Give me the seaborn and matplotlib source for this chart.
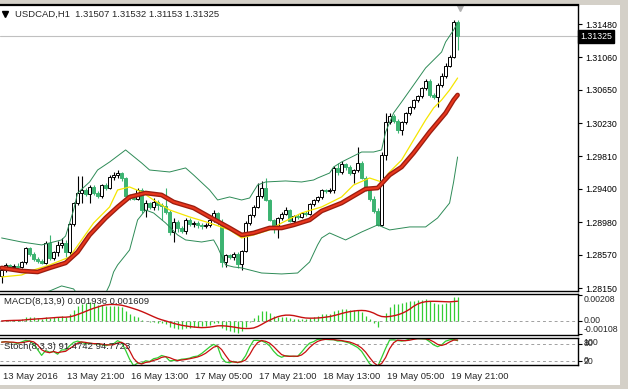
import numpy as np
import pandas as pd
import matplotlib
matplotlib.use("Agg")
import matplotlib.pyplot as plt
import matplotlib.transforms as mtransforms
from matplotlib.patches import Rectangle
import seaborn as sns

# USDCAD H1, 13 May 2016 05:00 .. 19 May 2016 23:00 (one bar per hour, weekend skipped)
opens = [1.28303, 1.28378, 1.28441, 1.28416, 1.28429, 1.28416, 1.28479, 1.28656, 1.28580, 1.28517,
         1.28492, 1.28467, 1.28719, 1.28530, 1.28605, 1.28694, 1.28719, 1.28605, 1.28958, 1.29223,
         1.29349, 1.29387, 1.29337, 1.29425, 1.29349, 1.29311, 1.29450, 1.29412, 1.29551, 1.29576,
         1.29601, 1.29538, 1.29311, 1.29286, 1.29274, 1.29387, 1.29135, 1.29223, 1.29173, 1.29236,
         1.29198, 1.29185, 1.29110, 1.28857, 1.28984, 1.28908, 1.28870, 1.29009, 1.28958, 1.28971,
         1.28946, 1.28933, 1.28946, 1.29009, 1.29097, 1.28984, 1.28479, 1.28567, 1.28542, 1.28580,
         1.28454, 1.28618, 1.28971, 1.29072, 1.29173, 1.29311, 1.29412, 1.29261, 1.29009, 1.28895,
         1.29034, 1.29084, 1.29135, 1.28996, 1.29059, 1.29047, 1.29097, 1.29084, 1.29211, 1.29261,
         1.29299, 1.29387, 1.29375, 1.29387, 1.29665, 1.29614, 1.29715, 1.29677, 1.29601, 1.29639,
         1.29728, 1.29538, 1.29387, 1.29274, 1.29122, 1.28946, 1.29828, 1.30245, 1.30320, 1.30257,
         1.30144, 1.30245, 1.30358, 1.30434, 1.30522, 1.30572, 1.30673, 1.30762, 1.30585, 1.30560,
         1.30711, 1.30825, 1.30951, 1.31064, 1.31507]
highs = [1.28404, 1.28467, 1.28454, 1.28454, 1.28467, 1.28492, 1.28668, 1.28668, 1.28605, 1.28542,
         1.28517, 1.28744, 1.28820, 1.28618, 1.28744, 1.28782, 1.28757, 1.28971, 1.29236, 1.29564,
         1.29564, 1.29412, 1.29450, 1.29450, 1.29375, 1.29463, 1.29475, 1.29576, 1.29614, 1.29639,
         1.29614, 1.29551, 1.29337, 1.29324, 1.29412, 1.29412, 1.29261, 1.29236, 1.29286, 1.29261,
         1.29223, 1.29412, 1.29135, 1.29034, 1.29009, 1.28933, 1.29034, 1.29034, 1.28996, 1.28996,
         1.28971, 1.28971, 1.29021, 1.29135, 1.29110, 1.29021, 1.28580, 1.28580, 1.28605, 1.28605,
         1.28631, 1.28996, 1.29084, 1.29198, 1.29475, 1.29501, 1.29538, 1.29274, 1.29021, 1.29047,
         1.29110, 1.29173, 1.29147, 1.29072, 1.29084, 1.29110, 1.29122, 1.29223, 1.29274, 1.29311,
         1.29400, 1.29400, 1.29412, 1.29690, 1.29728, 1.29753, 1.29728, 1.29702, 1.29652, 1.29929,
         1.29753, 1.29564, 1.29412, 1.29311, 1.29160, 1.29866, 1.30358, 1.30358, 1.30345, 1.30282,
         1.30257, 1.30371, 1.30446, 1.30535, 1.30585, 1.30686, 1.30787, 1.30787, 1.30610, 1.30736,
         1.30862, 1.30989, 1.31089, 1.31531, 1.31532]
lows = [1.28214, 1.28353, 1.28378, 1.28378, 1.28378, 1.28404, 1.28454, 1.28555, 1.28492, 1.28467,
        1.28454, 1.28454, 1.28504, 1.28504, 1.28555, 1.28656, 1.28542, 1.28580, 1.28933, 1.29198,
        1.29223, 1.29311, 1.29223, 1.29324, 1.29286, 1.29286, 1.29387, 1.29400, 1.29513, 1.29538,
        1.29501, 1.29286, 1.29261, 1.29261, 1.29261, 1.29097, 1.29047, 1.29147, 1.29135, 1.29135,
        1.29009, 1.29084, 1.28820, 1.28731, 1.28857, 1.28845, 1.28832, 1.28933, 1.28921, 1.28908,
        1.28895, 1.28908, 1.28921, 1.28984, 1.28946, 1.28416, 1.28416, 1.28517, 1.28504, 1.28404,
        1.28378, 1.28605, 1.28946, 1.29047, 1.29160, 1.29286, 1.29248, 1.28996, 1.28845, 1.28782,
        1.29009, 1.29072, 1.28984, 1.28971, 1.29021, 1.29034, 1.29059, 1.29072, 1.29185, 1.29236,
        1.29274, 1.29349, 1.29349, 1.29349, 1.29576, 1.29589, 1.29639, 1.29576, 1.29475, 1.29614,
        1.29526, 1.29375, 1.29248, 1.29097, 1.28933, 1.28933, 1.29765, 1.30219, 1.30232, 1.30106,
        1.30081, 1.30219, 1.30333, 1.30409, 1.30497, 1.30547, 1.30648, 1.30560, 1.30535, 1.30434,
        1.30686, 1.30799, 1.30938, 1.31052, 1.31153]
closes = [1.28378, 1.28441, 1.28416, 1.28429, 1.28416, 1.28479, 1.28656, 1.28580, 1.28517, 1.28492,
          1.28467, 1.28719, 1.28530, 1.28605, 1.28694, 1.28719, 1.28605, 1.28958, 1.29223, 1.29349,
          1.29387, 1.29337, 1.29425, 1.29349, 1.29311, 1.29450, 1.29412, 1.29551, 1.29576, 1.29601,
          1.29538, 1.29311, 1.29286, 1.29274, 1.29387, 1.29135, 1.29223, 1.29173, 1.29236, 1.29198,
          1.29185, 1.29110, 1.28857, 1.28984, 1.28908, 1.28870, 1.29009, 1.28958, 1.28971, 1.28946,
          1.28933, 1.28946, 1.29009, 1.29097, 1.28984, 1.28479, 1.28567, 1.28542, 1.28580, 1.28454,
          1.28618, 1.28971, 1.29072, 1.29173, 1.29311, 1.29412, 1.29261, 1.29009, 1.28895, 1.29034,
          1.29084, 1.29135, 1.28996, 1.29059, 1.29047, 1.29097, 1.29084, 1.29211, 1.29261, 1.29299,
          1.29387, 1.29375, 1.29387, 1.29665, 1.29614, 1.29715, 1.29677, 1.29601, 1.29639, 1.29728,
          1.29538, 1.29387, 1.29274, 1.29122, 1.28946, 1.29828, 1.30245, 1.30320, 1.30257, 1.30144,
          1.30245, 1.30358, 1.30434, 1.30522, 1.30572, 1.30673, 1.30762, 1.30585, 1.30560, 1.30711,
          1.30825, 1.30951, 1.31064, 1.31506, 1.31325]

# indicator lines at some bars (bar index, price)
bb_up_idx = [0, 5, 10, 15, 16, 18, 19, 22, 24, 27, 31, 35, 37, 42, 46, 48, 52, 54, 57, 60, 62,
             64, 66, 71, 75, 78, 79, 82, 83, 85, 86, 90, 93, 95, 96, 98, 100, 103, 106, 110, 111, 113, 114]
bb_up = [1.28782, 1.28731, 1.28694, 1.28757, 1.28807, 1.29135, 1.29349, 1.29488, 1.29639, 1.29740,
         1.29892, 1.29728, 1.29639, 1.29614, 1.29665, 1.29576, 1.29387, 1.29261, 1.29299, 1.29261,
         1.29286, 1.29450, 1.29488, 1.29501, 1.29488, 1.29513, 1.29538, 1.29601, 1.29677, 1.29740,
         1.29765, 1.29866, 1.29866, 1.29892, 1.30118, 1.30358, 1.30497, 1.30711, 1.30926, 1.31127,
         1.31253, 1.31405, 1.31493]
bb_lo_idx = [0, 6, 12, 15, 18, 20, 24, 27, 28, 29, 31, 32, 34, 36, 38, 41, 44, 46, 50, 53, 54, 56,
             58, 60, 65, 70, 74, 77, 79, 80, 82, 86, 90, 94, 97, 102, 106, 109, 112, 113, 114]
bb_lo = [1.27937, 1.28025, 1.28113, 1.28177, 1.28139, 1.28000, 1.27874, 1.28189, 1.28353, 1.28441,
         1.28567, 1.28631, 1.29009, 1.29135, 1.29097, 1.28971, 1.28820, 1.28757, 1.28731, 1.28757,
         1.28668, 1.28441, 1.28416, 1.28404, 1.28340, 1.28328, 1.28340, 1.28479, 1.28694, 1.28782,
         1.28845, 1.28757, 1.28857, 1.28946, 1.28883, 1.28921, 1.28921, 1.29034, 1.29223, 1.29488,
         1.29803]
fast_ma_idx = [0, 5, 8, 12, 17, 20, 23, 27, 29, 32, 35, 38, 42, 47, 52, 57, 60, 63, 67, 70, 75, 80,
               85, 88, 92, 95, 97, 100, 103, 106, 108, 110, 112, 114]
fast_ma = [1.28290, 1.28315, 1.28378, 1.28441, 1.28542, 1.28757, 1.28971, 1.29173, 1.29387, 1.29425,
           1.29362, 1.29261, 1.29135, 1.29047, 1.28971, 1.28883, 1.28782, 1.28820, 1.28883, 1.28971,
           1.29097, 1.29173, 1.29299, 1.29450, 1.29538, 1.29488, 1.29614, 1.29765, 1.30018, 1.30270,
           1.30421, 1.30522, 1.30648, 1.30799]
slow_ma_idx = [0, 5, 9, 12, 16, 19, 22, 26, 29, 32, 36, 40, 43, 48, 52, 57, 60, 63, 67, 70, 73, 77,
               80, 85, 91, 94, 97, 100, 103, 107, 111, 113, 114]
slow_ma = [1.28404, 1.28366, 1.28353, 1.28404, 1.28467, 1.28605, 1.28820, 1.29034, 1.29173, 1.29299,
           1.29349, 1.29324, 1.29236, 1.29160, 1.29047, 1.28908, 1.28820, 1.28845, 1.28908, 1.28908,
           1.28946, 1.29009, 1.29122, 1.29223, 1.29400, 1.29412, 1.29576, 1.29677, 1.29854, 1.30118,
           1.30358, 1.30522, 1.30585]

price_ticks = [1.31480, 1.31060, 1.30650, 1.30230, 1.29810, 1.29400, 1.28980, 1.28570, 1.28150]
time_ticks = [0, 16, 32, 48, 64, 80, 96, 112]
time_labels = ["13 May 2016", "13 May 21:00", "16 May 13:00", "17 May 05:00",
               "17 May 21:00", "18 May 13:00", "19 May 05:00", "19 May 21:00"]
bid = 1.31325

sns.set_style("white")
plt.rcParams["font.family"] = ["Liberation Sans", "DejaVu Sans"]

W, H = 628, 389
fig = plt.figure(figsize=(W / 100, H / 100), dpi=100, facecolor="#d4d0c8")
fig.add_artist(Rectangle((0, 4 / H), 620 / W, 380 / H, transform=fig.transFigure,
                         facecolor="white", edgecolor="none", zorder=0))


def panel(top, bottom):
    a = fig.add_axes([0, (H - bottom) / H, 578 / W, (bottom - top) / H])
    a.set_facecolor("white")
    a.spines["left"].set_visible(False)
    for s in ("top", "right", "bottom"):
        a.spines[s].set_color("black")
        a.spines[s].set_linewidth(1.0)
    a.set_xlim(-0.4, 144.1)
    a.set_xticks([])
    a.yaxis.tick_right()
    a.tick_params(axis="y", direction="out", length=3, width=0.8, pad=2,
                  labelsize=6.3, colors="black")
    return a


ax = panel(5, 291)
ax_macd = panel(294, 335)
ax_st = panel(338, 365)
ax.spines["top"].set_linewidth(1.6)

GREEN = "#3cb371"
idx = np.arange(len(closes))
o, h, l, c = (np.array(v) for v in (opens, highs, lows, closes))
bull = c >= o

# price panel
ax.axhline(bid, color="#c0c0c0", lw=0.8, zorder=1)
ax.vlines(idx, l, h, colors=np.where(bull, "black", GREEN), lw=0.8, zorder=3)
ax.bar(idx, np.maximum(np.abs(c - o), 1e-6), bottom=np.minimum(o, c), width=0.7,
       color=np.where(bull, "white", GREEN), edgecolor=np.where(bull, "black", GREEN),
       linewidth=0.7, zorder=4)

for xs, ys in ((bb_up_idx, bb_up), (bb_lo_idx, bb_lo)):
    sns.lineplot(x=xs, y=ys, ax=ax, color="#2e8b57", lw=0.7, estimator=None, sort=False, zorder=5)
sns.lineplot(x=fast_ma_idx, y=fast_ma, ax=ax, color="#f5e600", lw=0.9, estimator=None, sort=False, zorder=5)
sns.lineplot(x=slow_ma_idx, y=slow_ma, ax=ax, color="#9b1d10", lw=3.4, estimator=None, sort=False, zorder=5)
sns.lineplot(x=slow_ma_idx, y=slow_ma, ax=ax, color="#e8361c", lw=1.5, estimator=None, sort=False, zorder=6)

ax.set_ylim(1.28113, 1.31720)
ax.set_yticks(price_ticks)
ax.set_yticklabels([f"{p:.5f}" for p in price_ticks])
ax.set_xlabel("")
ax.set_ylabel("")

tr = mtransforms.blended_transform_factory(ax.transAxes, ax.transData)
ax.text(1.004, bid, f"{bid:.5f}", transform=tr, fontsize=6.3, color="white", va="center",
        ha="left", bbox=dict(boxstyle="square,pad=0.25", fc="black", ec="black"), zorder=10,
        clip_on=False)
ax.plot([0.009], [0.969], marker="v", ms=4, color="black", transform=ax.transAxes)
ax.text(0.026, 0.969, "USDCAD,H1  1.31507 1.31532 1.31153 1.31325", transform=ax.transAxes,
        fontsize=6.8, va="center", ha="left")
ax.plot([0.796], [0.99], marker="v", ms=5, color="#b0b0b0", transform=ax.transAxes, clip_on=False)

# MACD (8,13,9)
close = pd.Series(closes)
macd = close.ewm(span=8, adjust=False).mean() - close.ewm(span=13, adjust=False).mean()
signal = macd.rolling(9, min_periods=1).mean()
ax_macd.axhline(0, color="#a0a0a0", lw=0.7, ls=(0, (3, 3)))
ax_macd.vlines(idx, 0, macd, colors="#32cd32", lw=0.9)
sns.lineplot(x=idx, y=signal, ax=ax_macd, color="#c81010", lw=1.0, estimator=None, sort=False)
ax_macd.set_ylim(-0.00113, 0.00218)
ax_macd.set_yticks([0.00208, 0.0, -0.00108])
ax_macd.set_yticklabels([])
ax_macd.set_xlabel("")
ax_macd.set_ylabel("")
trm = mtransforms.blended_transform_factory(ax_macd.transAxes, ax_macd.transData)
ax_macd.text(1.01, 0.00208, "0.00208", transform=trm, fontsize=6.3, va="top", clip_on=False)
ax_macd.text(1.01, 0.00005, "0.00", transform=trm, fontsize=6.3, va="center", clip_on=False)
ax_macd.text(1.01, -0.00108, "-0.00108", transform=trm, fontsize=6.3, va="bottom", clip_on=False)
ax_macd.text(0.007, 0.82, "MACD(8,13,9) 0.001936 0.001609", transform=ax_macd.transAxes,
             fontsize=6.8, va="center")

# Stochastic (8,3,3)
low_s, high_s = pd.Series(lows), pd.Series(highs)
ll = low_s.rolling(8, min_periods=1).min()
hh = high_s.rolling(8, min_periods=1).max()
k = (close - ll).rolling(3, min_periods=1).sum() / (hh - ll).rolling(3, min_periods=1).sum() * 100
d = k.rolling(3, min_periods=1).mean()
for lvl in (80, 20):
    ax_st.axhline(lvl, color="#a0a0a0", lw=0.7, ls=(0, (3, 3)))
sns.lineplot(x=idx, y=k, ax=ax_st, color="#32cd32", lw=0.9, estimator=None, sort=False)
sns.lineplot(x=idx, y=d, ax=ax_st, color="#c81010", lw=0.9, estimator=None, sort=False)
ax_st.set_ylim(8, 100.5)
ax_st.set_yticks([80, 20])
ax_st.set_yticklabels([])
ax_st.set_xlabel("")
ax_st.set_ylabel("")
trs = mtransforms.blended_transform_factory(ax_st.transAxes, ax_st.transData)
ax_st.text(1.01, 100, "100", transform=trs, fontsize=6.3, va="top", clip_on=False)
ax_st.text(1.01, 80, "80", transform=trs, fontsize=6.3, va="center", clip_on=False)
ax_st.text(1.01, 20, "20", transform=trs, fontsize=6.3, va="center", clip_on=False)
ax_st.text(1.01, 9, "0", transform=trs, fontsize=6.3, va="bottom", clip_on=False)
ax_st.text(0.007, 0.69, "Stoch(8,3,3) 91.4742 94.7723", transform=ax_st.transAxes,
           fontsize=6.8, va="center", zorder=10)

ax_st.set_xticks(time_ticks[1:])
ax_st.set_xticklabels([])
ax_st.tick_params(axis="x", direction="out", length=6, width=0.8, colors="black")
trt = mtransforms.blended_transform_factory(ax_st.transData, ax_st.transAxes)
for t, lab in zip(time_ticks, time_labels):
    ax_st.text(t + 0.3, -0.42, lab, transform=trt, fontsize=6.8, va="center", ha="left",
               clip_on=False)

fig.savefig("out.png", dpi=100, facecolor=fig.get_facecolor())
